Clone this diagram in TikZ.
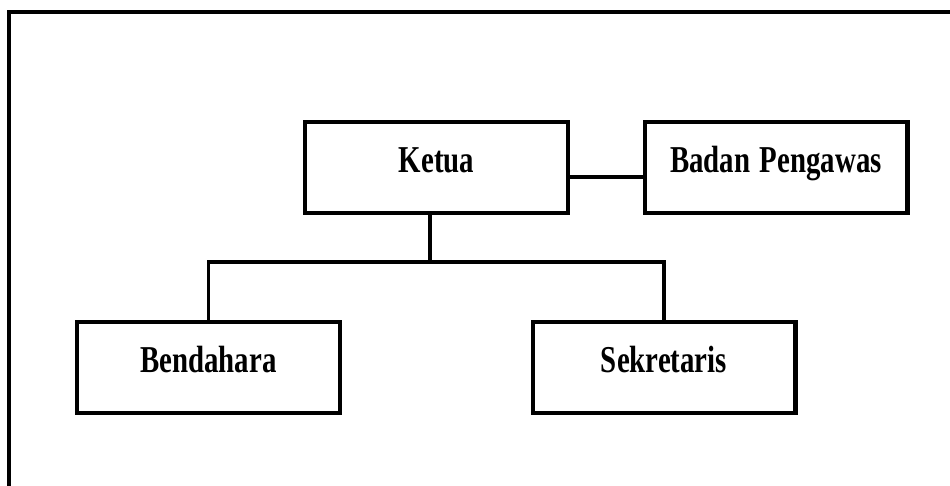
\documentclass[tikz,border=0pt]{standalone}
\usepackage{fontspec}
\setmainfont{Liberation Serif}
\usepackage{tikz}
\usetikzlibrary{positioning,calc}

\newcommand{\jabatan}[1]{\scalebox{0.76}[1]{\bfseries #1}}

\tikzset{
  kotak/.style={draw=black,line width=2.3pt,inner sep=0pt,
    text width=5.26cm,align=center,text height=1.0cm,text depth=0.82cm,
    font=\fontsize{21.6}{25}\selectfont,anchor=north},
  garis/.style={line width=1.9pt}
}

\begin{document}
\begin{tikzpicture}[x=0.02cm,y=-0.02cm]
  \useasboundingbox (0,0) rectangle (950,485);
  % frame
  \draw[line width=2.2pt] (9,490) -- (9,12) -- (955,12);
  % boxes
  \node[kotak] (ketua) at (436.5,120) {\jabatan{Ketua}};
  \node[kotak] (pengawas) at (776,120) {\jabatan{Badan Pengawas}};
  \node[kotak] (bendahara) at (208.5,320) {\jabatan{Bendahara}};
  \node[kotak] (sekretaris) at (664,320) {\jabatan{Sekretaris}};
  % lines
  \draw[garis] ([yshift=-0.19cm]ketua.east) -- ([yshift=-0.19cm]pengawas.west);
  \coordinate (cabang) at (430,262);
  \draw[garis] (ketua.south -| cabang) -- (cabang);
  \draw[garis] (bendahara.north) |- (cabang) -| (sekretaris.north);
\end{tikzpicture}
\end{document}
